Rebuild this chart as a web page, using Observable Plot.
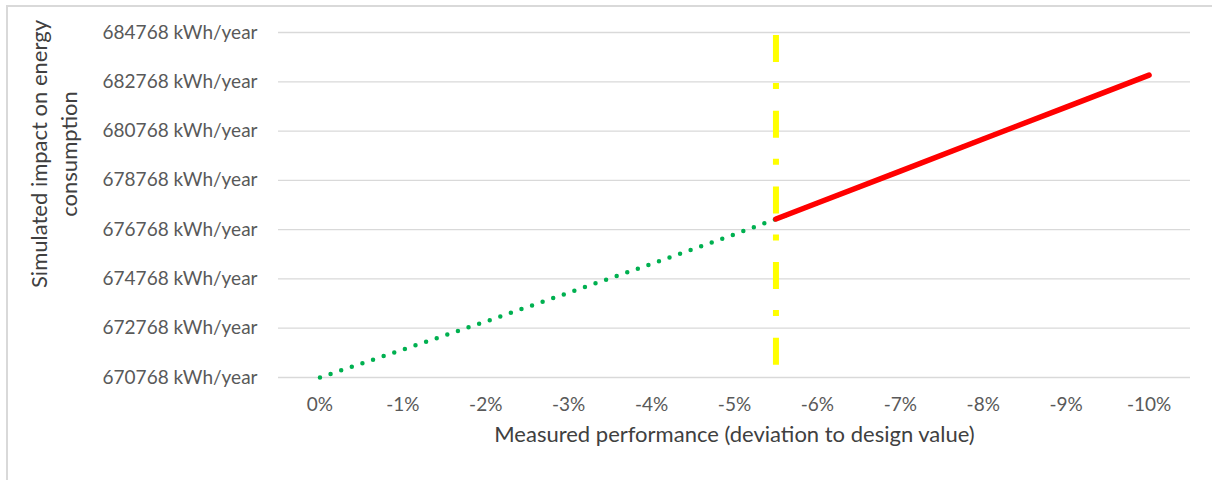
<!DOCTYPE html>
<html>
<head>
<meta charset="utf-8">
<script src="https://cdn.jsdelivr.net/npm/d3@7"></script>
<script src="https://cdn.jsdelivr.net/npm/@observablehq/plot@0.6"></script>
<style>
  html, body { margin: 0; padding: 0; background: #fff; overflow: hidden; }
  #wrap { position: relative; width: 1212px; height: 480px; }
  #frame { position: absolute; left: 6px; top: 5px; width: 1300px; height: 600px;
           border: 2px solid #d9d9d9; box-sizing: border-box; }
  #chart { position: absolute; left: 0; top: 0; }
</style>
</head>
<body>
<div id="wrap">
  <div id="frame"></div>
  <div id="chart"></div>
</div>
<script>
// Deviation of measured performance vs design value (%)
const greenPct = [0, -1, -2, -3, -4, -5, -5.5, -6, -7, -8, -9, -10];
// Simulated energy consumption (kWh/year)
const greenValues = [670768, 671900, 673040, 674210, 675380, 676580, 677200, 677850, 679145, 680445, 681740, 683040];
// Part of the curve beyond the threshold (red)
const redPct = [-5.5, -6, -7, -8, -9, -10];
const redValues = [677200, 677850, 679145, 680445, 681740, 683040];
// Threshold (yellow dashed)
const thresholdPct = [-5.5];
// Ticks
const xTicks = [0, -1, -2, -3, -4, -5, -6, -7, -8, -9, -10];
const yTicks = [670768, 672768, 674768, 676768, 678768, 680768, 682768, 684768];
const xTitle = "Measured performance (deviation to design value)";
const yTitle = "Simulated impact on energy\nconsumption";

const FONT = "Lato, 'Open Sans', sans-serif";

const svg = Plot.plot({
  width: 1212,
  height: 480,
  marginLeft: 278,
  marginRight: 22,
  marginTop: 32,
  marginBottom: 103,
  style: { background: "transparent", fontFamily: FONT, fontSize: "19px", color: "#595959" },
  x: { domain: [0.5, -10.5], ticks: xTicks, tickFormat: d => `${d}%`, tickSize: 0, tickPadding: 20, label: null },
  y: { domain: [670768, 684768], ticks: yTicks, tickFormat: d => `${d} kWh/year`, tickSize: 0, tickPadding: 21, label: null },
  marks: [
    Plot.ruleY(yTicks, { stroke: "#d9d9d9", strokeWidth: 1.3 }),
    Plot.ruleX(thresholdPct, { stroke: "#000", strokeOpacity: 0.4, strokeWidth: 6, strokeDasharray: "27,21,6,21.7", insetTop: 3, insetBottom: 12, dx: 3, dy: 3 }),
    Plot.ruleX(thresholdPct, { stroke: "#FFFF00", strokeWidth: 6, strokeDasharray: "27,21,6,21.7", insetTop: 3, insetBottom: 12 }),
    Plot.line(greenPct, { x: greenPct, y: greenValues, stroke: "#00B050", strokeWidth: 4.5, strokeDasharray: "0 11.2", strokeLinecap: "round" }),
    Plot.line(redPct, { x: redPct, y: redValues, stroke: "#FF0000", strokeWidth: 5.5 }),
    Plot.text([xTitle], { frameAnchor: "bottom", dy: 64, fontSize: 22, fill: "#404040", fontFamily: FONT }),
    Plot.text([yTitle], { frameAnchor: "left", textAnchor: "middle", rotate: -90, dx: -226, dy: -51, fontSize: 22, lineHeight: 1.36, fill: "#404040", fontFamily: FONT })
  ]
});

// soft shadow for the threshold line
const defs = d3.select(svg).insert("defs", ":first-child");
defs.append("filter").attr("id", "shadowBlur").attr("x", "-50%").attr("y", "-5%").attr("width", "200%").attr("height", "110%")
  .append("feGaussianBlur").attr("stdDeviation", 1.6);
const rules = d3.select(svg).selectAll('g[aria-label="rule"]').nodes();
if (rules.length > 1) d3.select(rules[1]).attr("filter", "url(#shadowBlur)");

document.getElementById("chart").appendChild(svg);
</script>
</body>
</html>
